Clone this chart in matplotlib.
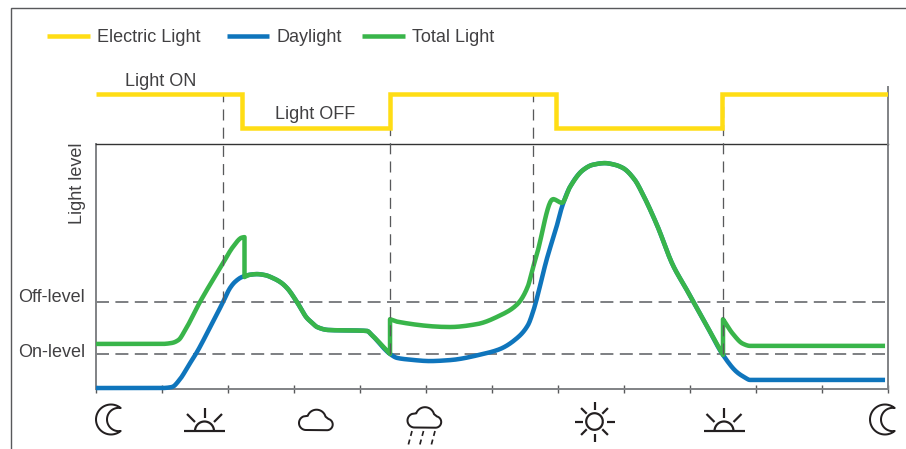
import numpy as np
import matplotlib
matplotlib.use("Agg")
import matplotlib.pyplot as plt
from matplotlib.lines import Line2D

plt.rcParams['font.family'] = ['Liberation Sans', 'DejaVu Sans']

# ---- data (x in hours of the day, y in % light level) ----
day_x = [0, 2, 2.3, 2.55, 2.8, 3.06, 3.45, 3.85, 4.06, 4.21, 4.42, 4.65, 4.88, 5.12, 5.36, 5.6, 5.79, 6.09, 6.39, 6.55, 6.7,
         7.03, 8.21, 8.36, 8.91, 9.12, 9.5, 10.12, 10.73, 11.73, 12.24, 12.76, 13.09, 13.24, 13.67, 13.97, 14.12,
         14.36, 14.76, 15.05, 15.42, 15.7, 15.97, 16.33, 16.55, 17, 17.48, 17.9, 18.5, 19, 19.42, 19.65, 19.82, 23.91]
day_y = [0.4, 0.4, 0.8, 4.1, 9.5, 15.1, 25, 35.5, 41.2, 43.7, 45.7, 46.6, 46.9, 46.5, 45.3, 43.5, 41.2, 35.5, 29, 27, 25.3,
         24.1, 23.7, 22, 14.3, 12.7, 12, 11.4, 11.8, 14.3, 16.3, 20.8, 26.1, 31.4, 53.5, 66.9, 74.3,
         82.4, 89.4, 91.5, 92.2, 91.6, 90.2, 85.3, 80, 66.9, 50.6, 40.5, 26, 13.9, 6.9, 4.8, 3.7, 3.7]

total_x = [0, 2, 2.3, 2.5, 2.7, 3.15, 3.85, 4.15, 4.42, 4.5, 4.5, 4.65, 4.88, 5.12, 5.36, 5.6, 5.79, 6.09, 6.39, 6.55, 6.7,
           7.03, 8.21, 8.36, 8.91, 8.91, 9.12, 10.73, 11.55, 12.24, 12.76, 13.09, 13.2, 13.36, 13.85, 14.12,
           14.36, 14.76, 15.05, 15.42, 15.7, 15.97, 16.33, 16.55, 17, 17.48, 17.9, 18.5, 19, 19.0, 19.3, 19.6, 19.82, 23.91]
total_y = [18.4, 18.4, 18.8, 20, 24, 35.5, 51.4, 58, 61.8, 62, 45.7, 46.6, 46.9, 46.5, 45.3, 43.5, 41.2, 35.5, 29, 27, 25.3,
           24.1, 23.7, 22, 14.3, 28.5, 27.5, 25.3, 26.5, 30, 34.5, 42, 47.5, 55, 77.5, 76,
           82.4, 89.4, 91.5, 92.2, 91.6, 90.2, 85.3, 80, 66.9, 50.6, 40.5, 26, 13.9, 28.5, 22.5, 18.5, 17.6, 17.6]

elec_x = [0, 4.42, 4.42, 8.91, 8.91, 13.94, 13.94, 18.98, 18.98, 24]
elec_y = [1, 1, 0, 0, 1, 1, 0, 0, 1, 1]

off_level = 35.5
on_level = 14.3
switch_off_hours = [3.85, 13.24]
switch_on_hours = [8.91, 19.0]
hour_ticks = list(range(0, 25, 2))
legend_labels = ['Electric Light', 'Daylight', 'Total Light']

YELLOW, BLUE, GREEN = '#FFDD15', '#0F75BC', '#39B54A'
TXT, GREY, INK = '#414042', '#808285', '#231F20'

W, H = 906, 449
FS = 13
fig = plt.figure(figsize=(W / 100, H / 100), dpi=100, facecolor='white')
px = 0.72  # points per pixel


def rect(l, t, r, b):
    return [l / W, 1 - b / H, (r - l) / W, (b - t) / H]


def smooth_run(x, y, n=12):
    """Monotone cubic drawing path through the read points of one unbroken run."""
    x, y = np.asarray(x, float), np.asarray(y, float)
    if len(x) < 3:
        return x, y
    h = np.diff(x)
    d = np.diff(y) / h
    m = np.zeros_like(x)
    for i in range(1, len(x) - 1):
        if d[i - 1] * d[i] > 0:
            w1, w2 = 2 * h[i] + h[i - 1], h[i] + 2 * h[i - 1]
            m[i] = (w1 + w2) / (w1 / d[i - 1] + w2 / d[i])
    m[0], m[-1] = d[0], d[-1]
    xs, ys = [], []
    for i in range(len(h)):
        t = np.linspace(0, 1, n, endpoint=False)
        xs.append(x[i] + t * h[i])
        ys.append((2*t**3 - 3*t**2 + 1) * y[i] + (t**3 - 2*t**2 + t) * h[i] * m[i]
                  + (-2*t**3 + 3*t**2) * y[i + 1] + (t**3 - t**2) * h[i] * m[i + 1])
    return np.r_[np.concatenate(xs), x[-1]], np.r_[np.concatenate(ys), y[-1]]


def smooth(x, y):
    """Smooth each run between vertical jumps (repeated x values)."""
    x, y = np.asarray(x, float), np.asarray(y, float)
    cuts = [0] + list(np.where(np.diff(x) == 0)[0] + 1) + [len(x)]
    parts = [smooth_run(x[a:b], y[a:b]) for a, b in zip(cuts[:-1], cuts[1:])]
    return np.concatenate([p[0] for p in parts]), np.concatenate([p[1] for p in parts])


# main panel
ax = fig.add_axes(rect(96, 144, 888, 389))
ax.set_xlim(0, 24)
ax.set_ylim(0, 100)
ax.set_xticks(hour_ticks)
ax.set_xticklabels([])
ax.set_yticks([])
ax.tick_params(axis='x', direction='inout', length=6, width=1, color='#58595B')
for s in ('left', 'right', 'bottom'):
    ax.spines[s].set_color(GREY)
    ax.spines[s].set_linewidth(1.4)
ax.spines['top'].set_color('#333333')
ax.spines['top'].set_linewidth(1.0)

for lv in (off_level, on_level):
    ax.axhline(lv, color=GREY, lw=2 * px, dashes=(6.5, 3.2), zorder=1)

l_day, = ax.plot(*smooth(day_x, day_y), color=BLUE, lw=4.5 * px, zorder=3, solid_joinstyle='round',
                 solid_capstyle='butt', clip_on=False)
l_tot, = ax.plot(*smooth(total_x, total_y), color=GREEN, lw=4.5 * px, zorder=4, solid_joinstyle='round',
                 solid_capstyle='butt', clip_on=False)

ax.text(-11 / 33, off_level + 2.0, 'Off-level', ha='right', va='center', fontsize=FS, color=TXT, clip_on=False)
ax.text(-11 / 33, on_level + 0.4, 'On-level', ha='right', va='center', fontsize=FS, color=TXT, clip_on=False)
ax.set_ylabel('Light level', fontsize=FS, color=TXT, labelpad=0)
ax.yaxis.set_label_coords(-10 / 792, 1 - 39 / 245)

# top panel: light state
top = fig.add_axes(rect(96, 87, 888, 144))
top.set_xlim(0, 24)
top.set_ylim(-16 / 34, 1 + 7 / 34)
top.set_xticks([])
top.set_yticks([])
top.patch.set_alpha(0)
for s in ('left', 'top', 'bottom'):
    top.spines[s].set_visible(False)
top.spines['right'].set_color(GREY)
top.spines['right'].set_linewidth(1.4)
l_el, = top.plot(elec_x, elec_y, color=YELLOW, lw=4.5 * px, zorder=3, solid_joinstyle='miter',
                 solid_capstyle='butt')
top.text(1.95, 1.38, 'Light ON', ha='center', va='center', fontsize=FS, color=TXT, clip_on=False)
top.text(6.64, 0.41, 'Light OFF', ha='center', va='center', fontsize=FS, color=TXT, clip_on=False)

# switching guides run from the light-state trace to the threshold
guide_top = 100 * (389 - 94) / 245
for h, lv in [(h, off_level) for h in switch_off_hours] + [(h, on_level) for h in switch_on_hours]:
    l = Line2D([h, h], [lv, guide_top], color='#58595B', lw=1.3 * px, dashes=(8.5, 5.5), zorder=5,
               clip_on=False)
    ax.add_line(l)
ax.set_zorder(3)
ax.patch.set_alpha(0)
top.set_zorder(4)

leg_opts = dict(loc='center left', ncol=2, frameon=False, fontsize=FS, labelcolor=TXT, handlelength=2.38,
                handletextpad=0.39, columnspacing=1.44, borderpad=0, borderaxespad=0)
fig.legend([l_el, l_day], legend_labels[:2], bbox_to_anchor=(47 / W, 1 - 37.5 / H), **leg_opts)
fig.legend([l_tot], legend_labels[2:], bbox_to_anchor=(362 / W, 1 - 37.5 / H), **leg_opts)

# overlay: frame and weather icons in pixel space
ov = fig.add_axes([0, 0, 1, 1], zorder=10)
ov.set_xlim(0, W)
ov.set_ylim(H, 0)
ov.axis('off')
ov.patch.set_alpha(0)
ov.plot([10.5, 10.5, W], [H, 8, 8], color='#58595B', lw=1.4 * px, solid_joinstyle='miter')


def arc(cx, cy, r, a0, a1, n=40):
    a = np.radians(np.linspace(a0, a1, n))
    return cx + r * np.cos(a), cy - r * np.sin(a)


def stroke(x, y, lw=1.6, **k):
    ov.plot(x, y, color=INK, lw=lw * px, solid_capstyle='butt', **k)


def moon(cx, cy):
    x1, y1 = arc(cx, cy, 15, 50, 310)
    x2, y2 = arc(cx + 7.65, cy, 11.65, 280, 80)
    stroke(np.r_[x1, x2, x1[0]], np.r_[y1, y2, y1[0]], lw=2)


def sunrise(cx, cy):
    stroke([cx - 20.5, cx + 20.5], [cy, cy], lw=2.2)
    x, y = arc(cx, cy, 9.5, 0, 180)
    stroke(x, y, lw=2.2)
    stroke([cx, cx], [cy - 23, cy - 13.5], lw=2.2)
    stroke([cx - 17.5, cx - 9.5], [cy - 17, cy - 9], lw=2.2)
    stroke([cx + 17.5, cx + 9.5], [cy - 17, cy - 9], lw=2.2)


def cloud(dx, dy):
    xa, ya = arc(306 + dx, 423 + dy, 7, 270, 110)
    xb, yb = arc(316.5 + dx, 419 + dy, 9.3, 160, 15)
    xc, yc = arc(327 + dx, 424.5 + dy, 5.7, 75, -90)
    stroke(np.r_[xa, xb, xc, xa[0]], np.r_[ya, yb, yc, ya[0]], lw=2)


def sun(cx, cy):
    x, y = arc(cx, cy, 8.3, 0, 360)
    stroke(x, y, lw=2.2)
    for a in range(0, 360, 45):
        c, s = np.cos(np.radians(a)), np.sin(np.radians(a))
        r0, r1 = (12, 20) if a % 90 == 0 else (11, 19)
        stroke([cx + r0 * c, cx + r1 * c], [cy + r0 * s, cy + r1 * s], lw=2.2)


moon(111, 419.5)
sunrise(204.5, 431)
cloud(0, 0)
cloud(108.5, -2.5)
for x0 in (412, 423.5, 435):
    ov.plot([x0, x0 - 4], [431, 446], color=INK, lw=1.7 * px, dashes=(3, 2.2))
sun(594.5, 421.5)
sunrise(724, 431)
moon(885, 419.5)

fig.savefig('out.png', dpi=100)
